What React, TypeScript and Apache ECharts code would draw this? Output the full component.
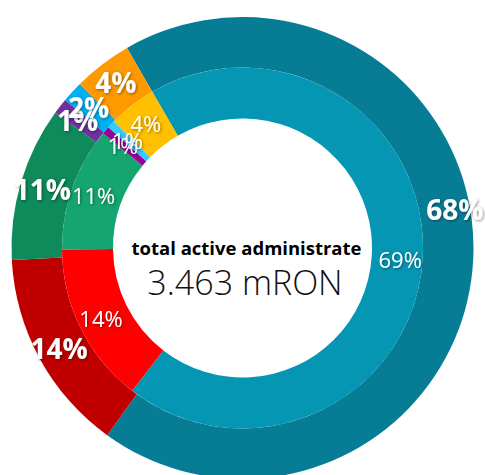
import React, { useEffect, useRef } from "react";
import * as echarts from "echarts";

const categories = ["Teal", "Red", "Green", "Purple", "Blue", "Orange"];
const outerValues = [68.3, 14.2, 10.8, 1.1, 1.5, 4.1];
const innerValues = [68.8, 14.4, 11.1, 0.7, 0.7, 4.3];
const outerColors = ["#077D95", "#C00000", "#0F8A5B", "#7030A0", "#00B0F0", "#FF9900"];
const innerColors = ["#0596B3", "#FF0000", "#15A570", "#990099", "#33CCFF", "#FFC000"];
const centerTitle = "total active administrate";
const centerValue = "3.463 mRON";

export default function App() {
  const ref = useRef<HTMLDivElement>(null);
  useEffect(() => {
    const chart = echarts.init(ref.current!, null, { renderer: "svg" });
    const fmt = (p: any) => Math.round(p.percent) + "%";
    const shadow = {
      textShadowColor: "rgba(0,0,0,0.45)",
      textShadowBlur: 3,
      textShadowOffsetX: 1,
      textShadowOffsetY: 1,
    };
    chart.setOption({
      animation: false,
      series: [
        {
          type: "pie",
          center: [242.5, 248],
          radius: [180.5, 231],
          startAngle: 120,
          clockwise: true,
          avoidLabelOverlap: false,
          minShowLabelAngle: 0,
          label: {
            position: "inside",
            formatter: fmt,
            color: "#fff",
            fontFamily: "Open Sans",
            fontWeight: "bold",
            fontSize: 28,
            ...shadow,
          },
          labelLine: { show: false },
          labelLayout: (p: any) => (p.dataIndex === 0 ? { dy: -50, dx: 4, hideOverlap: false } : { hideOverlap: false }),
          itemStyle: { borderWidth: 0 },
          emphasis: { disabled: true },
          data: categories.map((c, i) => ({
            name: c,
            value: outerValues[i],
            itemStyle: { color: outerColors[i] },
          })),
        },
        {
          type: "pie",
          center: [242.5, 248],
          radius: [129.5, 180.5],
          startAngle: 120,
          clockwise: true,
          avoidLabelOverlap: false,
          minShowLabelAngle: 0,
          label: {
            show: true,
            position: "inside",
            rotate: 0,
            overflow: "none",
            formatter: fmt,
            color: "#fff",
            fontFamily: "Open Sans",
            fontWeight: "normal",
            fontSize: 22,
            ...shadow,
          },
          labelLine: { show: false },
          labelLayout: { hideOverlap: false },
          itemStyle: { borderWidth: 0 },
          emphasis: { disabled: true },
          data: categories.map((c, i) => ({
            name: c,
            value: innerValues[i],
            itemStyle: { color: innerColors[i] },
          })),
        },
      ],
      graphic: [
        {
          type: "text",
          x: 246.5,
          y: 247,
          style: {
            text: centerTitle,
            align: "center",
            verticalAlign: "middle",
            fontFamily: "Open Sans",
            fontWeight: "bold",
            fontSize: 18.5,
            fill: "#000",
          },
        },
        {
          type: "text",
          x: 245,
          y: 282,
          style: {
            text: centerValue,
            align: "center",
            verticalAlign: "middle",
            fontFamily: "Open Sans",
            fontWeight: 300,
            fontSize: 34,
            fill: "#111",
          },
        },
      ],
    });
    return () => chart.dispose();
  }, []);
  return (
    <div
      ref={ref}
      style={{ position: "absolute", left: 0, top: 0, width: 485, height: 475 }}
    />
  );
}
